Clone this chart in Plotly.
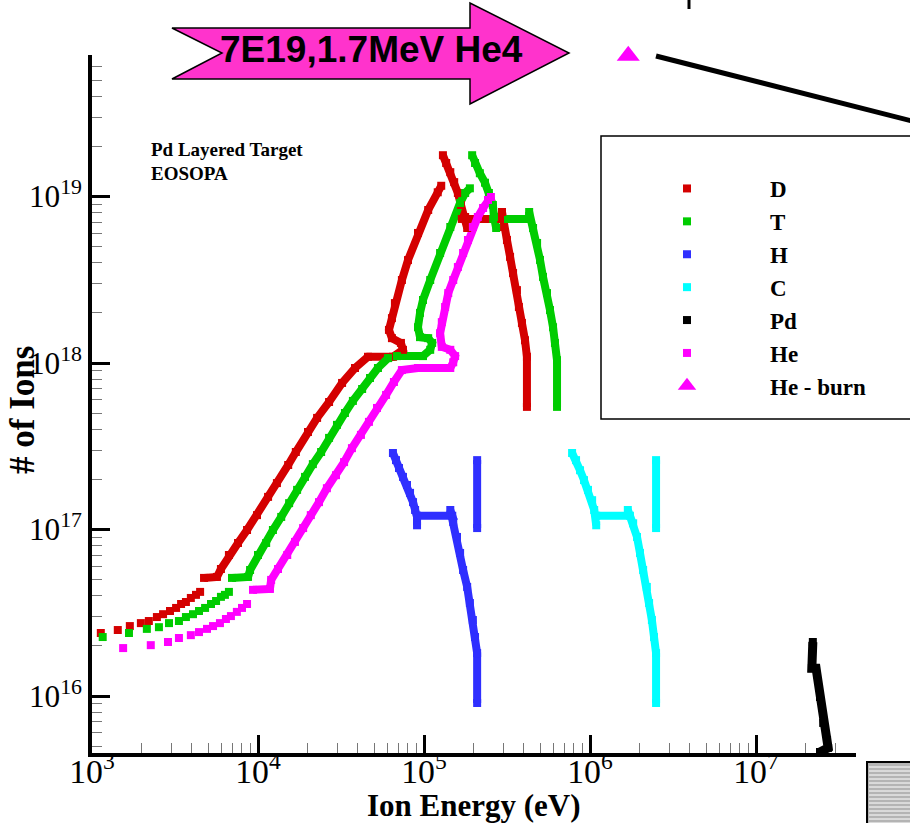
import plotly.graph_objects as go

# ---------------- data (Ion energy in eV, number of ions) ----------------
D_sparse_E = [1.13e3, 1.43e3, 1.69e3, 1.97e3, 2.20e3, 2.46e3, 2.68e3, 2.95e3, 3.21e3, 3.44e3, 3.68e3, 3.94e3, 4.23e3, 4.48e3]
D_sparse_N = [2.39e16, 2.49e16, 2.63e16, 2.74e16, 2.82e16, 2.98e16, 3.10e16, 3.24e16, 3.38e16, 3.57e16, 3.67e16, 3.88e16, 4.05e16, 4.22e16]
D_rise_E = [4.73e3, 5.66e3, 5.98e3, 6.68e3, 7.58e3, 8.59e3, 9.86e3, 1.15e4, 1.30e4, 1.52e4, 1.69e4, 2.00e4, 2.27e4, 2.68e4, 3.21e4,
            3.84e4, 4.60e4, 6.50e4, 7.47e4, 7.26e4, 6.41e4, 6.15e4, 6.41e4, 6.68e4, 7.36e4, 8.01e4, 9.20e4, 1.06e5, 1.21e5, 1.27e5]
D_rise_N = [5.12e16, 5.19e16, 5.79e16, 7.03e16, 8.30e16, 9.93e16, 1.22e17, 1.57e17, 1.90e17, 2.44e17, 2.92e17, 3.85e17, 4.68e17, 5.83e17, 7.59e17,
            9.33e17, 1.09e18, 1.09e18, 1.20e18, 1.32e18, 1.41e18, 1.58e18, 1.86e18, 2.29e18, 3.15e18, 4.15e18, 6.04e18, 8.30e18, 1.06e19, 1.16e19]
D_peak_E = [1.30e5, 1.36e5, 1.44e5, 1.52e5, 1.60e5, 1.67e5, 1.77e5, 1.82e5]
D_peak_N = [1.77e19, 1.59e19, 1.40e19, 1.22e19, 1.05e19, 8.89e18, 7.53e18, 6.47e18]
D_tail_E = [1.69e5, 2.87e5, 2.95e5, 3.03e5, 3.16e5, 3.30e5, 3.44e5, 3.63e5, 3.73e5, 3.89e5, 4.06e5, 4.17e5, 4.17e5]
D_tail_N = [7.33e18, 7.33e18, 8.07e18, 6.56e18, 5.48e18, 4.34e18, 3.47e18, 2.74e18, 2.17e18, 1.74e18, 1.37e18, 1.09e18, 5.45e17]

T_sparse_E = [1.16e3, 1.67e3, 2.14e3, 2.53e3, 2.91e3, 3.34e3, 3.68e3, 4.06e3, 4.41e3, 4.80e3, 5.21e3, 5.59e3, 5.98e3, 6.32e3, 6.68e3]
T_sparse_N = [2.26e16, 2.39e16, 2.53e16, 2.59e16, 2.74e16, 2.82e16, 2.98e16, 3.10e16, 3.24e16, 3.38e16, 3.57e16, 3.72e16, 3.94e16, 4.05e16, 4.22e16]
T_rise_E = [6.97e3, 8.71e3, 8.96e3, 1.00e4, 1.12e4, 1.23e4, 1.38e4, 1.54e4, 1.72e4, 1.92e4, 2.14e4, 2.40e4, 2.68e4, 2.99e4, 3.34e4,
            3.73e4, 4.24e4, 4.73e4, 5.28e4, 6.07e4, 6.87e4, 9.86e4, 1.09e5, 1.12e5, 1.06e5, 9.46e4, 9.20e4, 9.46e4, 9.86e4, 1.09e5,
            1.25e5, 1.44e5, 1.65e5, 1.77e5, 1.89e5]
T_rise_N = [5.12e16, 5.19e16, 5.71e16, 7.03e16, 8.30e16, 9.93e16, 1.19e17, 1.44e17, 1.73e17, 2.07e17, 2.47e17, 2.92e17, 3.55e17, 4.25e17, 5.01e17,
            5.92e17, 6.98e17, 8.13e17, 9.33e17, 1.07e18, 1.10e18, 1.10e18, 1.20e18, 1.32e18, 1.41e18, 1.43e18, 1.64e18, 2.00e18, 2.39e18, 3.15e18,
            4.58e18, 6.56e18, 9.14e18, 1.05e19, 1.12e19]
T_peak_E = [1.95e5, 2.03e5, 2.17e5, 2.33e5, 2.46e5, 2.60e5, 2.64e5, 2.72e5]
T_peak_N = [1.77e19, 1.59e19, 1.38e19, 1.21e19, 1.05e19, 8.89e18, 7.53e18, 6.47e18]
T_tail_E = [2.61e5, 4.30e5, 4.30e5, 4.54e5, 4.80e5, 5.00e5, 5.21e5, 5.51e5, 5.74e5, 5.99e5, 6.15e5, 6.33e5, 6.33e5]
T_tail_N = [7.33e18, 7.33e18, 8.07e18, 6.47e18, 5.26e18, 4.16e18, 3.29e18, 2.63e18, 2.08e18, 1.64e18, 1.32e18, 1.04e18, 5.45e17]

He_sparse_E = [1.54e3, 2.26e3, 2.87e3, 3.34e3, 3.94e3, 4.41e3, 4.93e3, 5.36e3, 5.90e3, 6.41e3, 6.87e3, 7.46e3, 8.01e3, 8.59e3]
He_sparse_N = [1.94e16, 2.02e16, 2.11e16, 2.23e16, 2.32e16, 2.42e16, 2.53e16, 2.63e16, 2.74e16, 2.90e16, 3.02e16, 3.20e16, 3.38e16, 3.57e16]
He_rise_E = [9.33e3, 1.18e4, 1.20e4, 1.32e4, 1.50e4, 1.67e4, 1.87e4, 2.08e4, 2.33e4, 2.60e4, 2.95e4, 3.30e4, 3.68e4, 4.17e4, 4.66e4,
             5.21e4, 5.91e4, 6.59e4, 7.36e4, 9.20e4, 1.44e5, 1.50e5, 1.54e5, 1.44e5, 1.28e5, 1.25e5, 1.28e5, 1.34e5, 1.40e5, 1.50e5,
             1.60e5, 1.72e5, 1.84e5, 1.97e5, 2.11e5, 2.27e5, 2.43e5, 2.53e5]
He_rise_N = [4.34e16, 4.40e16, 4.98e16, 5.79e16, 7.03e16, 8.42e16, 1.02e17, 1.22e17, 1.46e17, 1.77e17, 2.12e17, 2.54e17, 3.08e17, 3.70e17, 4.43e17,
             5.37e17, 6.43e17, 7.69e17, 9.07e17, 9.33e17, 9.33e17, 1.01e18, 1.10e18, 1.20e18, 1.25e18, 1.51e18, 1.76e18, 2.17e18, 2.63e18, 3.15e18,
             3.77e18, 4.58e18, 5.48e18, 6.56e18, 7.53e18, 8.53e18, 9.53e18, 9.93e18]

H_a_E = [6.50e4, 6.78e4, 7.07e4, 7.47e4, 7.90e4, 8.24e4, 8.59e4, 8.84e4, 9.08e4, 9.08e4]
H_a_N = [2.88e17, 2.61e17, 2.34e17, 2.07e17, 1.85e17, 1.66e17, 1.46e17, 1.31e17, 1.19e17, 1.06e17]
H_b_E = [9.08e4, 1.48e5, 1.44e5, 1.50e5, 1.58e5, 1.65e5, 1.72e5, 1.82e5, 1.89e5, 1.97e5, 2.03e5, 2.09e5, 2.09e5]
H_b_N = [1.21e17, 1.21e17, 1.31e17, 1.11e17, 9.02e16, 7.23e16, 5.71e16, 4.52e16, 3.62e16, 2.86e16, 2.26e16, 1.81e16, 9.08e15]
H_bar_E = [2.09e5, 2.09e5]
H_bar_N = [2.61e17, 1.02e17]

C_a_E = [7.80e5, 8.24e5, 8.71e5, 9.20e5, 9.73e5, 1.03e6, 1.06e6, 1.09e6]
C_a_N = [2.88e17, 2.61e17, 2.27e17, 1.98e17, 1.73e17, 1.50e17, 1.31e17, 1.06e17]
C_b_E = [1.09e6, 1.74e6, 1.69e6, 1.82e6, 1.92e6, 2.00e6, 2.09e6, 2.20e6, 2.27e6, 2.36e6, 2.43e6, 2.50e6, 2.50e6]
C_b_N = [1.21e17, 1.21e17, 1.31e17, 1.09e17, 9.02e16, 7.23e16, 5.71e16, 4.52e16, 3.62e16, 2.86e16, 2.26e16, 1.81e16, 9.08e15]
C_bar_E = [2.50e6, 2.50e6]
C_bar_N = [2.61e17, 1.02e17]

Pd_E = [2.20e7, 2.17e7, 2.30e7, 2.43e7, 2.54e7, 2.68e7, 2.72e7, 2.43e7]
Pd_N = [2.11e16, 1.47e16, 1.47e16, 9.86e15, 6.89e15, 5.45e15, 4.88e15, 4.61e15]

HeBurn_E = [1.7e6]
HeBurn_N = [7.0e19]

# ---------------- styling ----------------
COL = {"D": "#D40000", "T": "#00CC00", "H": "#2F2FFF", "C": "#00FFFF", "Pd": "#000000", "He": "#FF00FF"}
SERIF = "Liberation Serif"

W, H = 910, 823
ML, MR, MT, MB = 92, 54, 55, 70
PW, PH = W - ML - MR, H - MT - MB
XDEC, YDEC = 166.0, 166.5          # pixels per decade
Y16 = 696                          # pixel row of 1e16


def px(x, y):
    """pixel -> paper coordinates"""
    return (x - ML) / PW, (H - MB - y) / PH


def join(*segs):
    xs, ys = [], []
    for e, n in segs:
        if xs:
            xs.append(None)
            ys.append(None)
        xs += list(e)
        ys += list(n)
    return xs, ys


species = [
    ("D", [(D_sparse_E, D_sparse_N)], [(D_rise_E, D_rise_N), (D_peak_E, D_peak_N), (D_tail_E, D_tail_N)], 8),
    ("T", [(T_sparse_E, T_sparse_N)], [(T_rise_E, T_rise_N), (T_peak_E, T_peak_N), (T_tail_E, T_tail_N)], 8),
    ("H", [], [(H_a_E, H_a_N), (H_b_E, H_b_N), (H_bar_E, H_bar_N)], 8),
    ("C", [], [(C_a_E, C_a_N), (C_b_E, C_b_N), (C_bar_E, C_bar_N)], 8),
    ("Pd", [], [(Pd_E, Pd_N)], 9),
    ("He", [(He_sparse_E, He_sparse_N)], [(He_rise_E, He_rise_N)], 8),
]

fig = go.Figure()
for name, sparse, dense, lw in species:
    c = COL[name]
    lx, ly = join(*dense)
    fig.add_trace(go.Scatter(x=lx, y=ly, mode="lines", line=dict(color=c, width=lw),
                             showlegend=False, hoverinfo="skip", connectgaps=False))
for name, sparse, dense, lw in species:
    c = COL[name]
    mx, my = [], []
    for e, n in sparse + dense:
        mx += list(e)
        my += list(n)
    fig.add_trace(go.Scatter(x=mx, y=my, mode="markers", name=name,
                             marker=dict(symbol="square", size=8, color=c, line=dict(width=0))))
fig.add_trace(go.Scatter(x=HeBurn_E, y=HeBurn_N, mode="markers", name="He - burn", cliponaxis=False,
                         marker=dict(symbol="triangle-up", size=20, color="#FF00FF", line=dict(width=0))))

axis_common = dict(
    type="log", showline=True, linewidth=4, linecolor="black", mirror=False,
    ticks="inside", ticklen=18, tickwidth=3, tickcolor="black", dtick=1,
    exponentformat="power", showexponent="all", showgrid=False, zeroline=False,
    minor=dict(ticks="inside", ticklen=10, tickwidth=1, tickcolor="#777777", dtick="D1", showgrid=False),
)

fig.update_layout(
    width=W, height=H,
    margin=dict(l=ML, r=MR, t=MT, b=MB, autoexpand=False),
    paper_bgcolor="white", plot_bgcolor="white",
    xaxis=dict(axis_common, range=[3, 3 + PW / XDEC], ticklabelstandoff=-13,
               tickfont=dict(family=SERIF, size=27, color="black")),
    yaxis=dict(axis_common, range=[16 - (H - MB - Y16) / YDEC, 16 + (Y16 - MT) / YDEC], ticklabelstandoff=1,
               tickfont=dict(family=SERIF, size=25, color="black")),
    showlegend=True,
    legend=dict(x=px(604, 0)[0], y=px(0, 167)[1], xanchor="left", yanchor="top",
                bgcolor="rgba(0,0,0,0)", borderwidth=0, itemwidth=156, itemsizing="trace",
                font=dict(family=SERIF, size=23, color="black", weight="bold"), traceorder="normal"),
)

shapes = []
# legend frame
x0, y0 = px(601, 419)
x1, y1 = px(918, 136)
shapes.append(dict(type="rect", xref="paper", yref="paper", x0=x0, y0=y0, x1=x1, y1=y1,
                   line=dict(color="black", width=1.5), fillcolor="rgba(0,0,0,0)", layer="below"))
# big arrow
arrow_pts = [(172, 28), (470, 28), (470, 3), (569, 53), (470, 104), (470, 79), (172, 79), (222, 53)]
path = "M " + " L ".join("%.5f,%.5f" % px(a, b) for a, b in arrow_pts) + " Z"
shapes.append(dict(type="path", xref="paper", yref="paper", path=path,
                   fillcolor="#FF33CC", line=dict(color="black", width=1.5)))
# black diagonal line top right
a0, b0 = px(656, 56)
a1, b1 = px(912, 121)
shapes.append(dict(type="line", xref="paper", yref="paper", x0=a0, y0=b0, x1=a1, y1=b1,
                   line=dict(color="black", width=5)))
# small black tick at top
a0, b0 = px(689, -2)
a1, b1 = px(689, 9)
shapes.append(dict(type="line", xref="paper", yref="paper", x0=a0, y0=b0, x1=a1, y1=b1,
                   line=dict(color="black", width=3)))
# striped box bottom right
a0, b0 = px(867, 762)
a1, b1 = px(920, 830)
shapes.append(dict(type="rect", xref="paper", yref="paper", x0=a0, y0=b0, x1=a1, y1=b1,
                   fillcolor="#B4B4B4", line=dict(color="black", width=2)))
for yy in range(767, 826, 4):
    s0, t0 = px(869, yy)
    s1, t1 = px(915, yy)
    shapes.append(dict(type="line", xref="paper", yref="paper", x0=s0, y0=t0, x1=s1, y1=t1,
                       line=dict(color="white", width=1)))
fig.update_layout(shapes=shapes)

ann = []
ax, ay = px(371, 50)
ann.append(dict(xref="paper", yref="paper", x=ax, y=ay, text="<b>7E19,1.7MeV He4</b>", showarrow=False,
                xanchor="center", yanchor="middle", font=dict(family="Liberation Sans", size=37, color="black")))
for txt, yc in (("Pd Layered Target", 150), ("EOSOPA", 173)):
    tx, ty = px(149, yc)
    ann.append(dict(xref="paper", yref="paper", x=tx, y=ty, text="<b>%s</b>" % txt, showarrow=False,
                    xanchor="left", yanchor="middle", font=dict(family=SERIF, size=19, color="black")))
# axis titles
tx, ty = px(474, 805)
ann.append(dict(xref="paper", yref="paper", x=tx, y=ty, text="<b>Ion Energy (eV)</b>", showarrow=False,
                xanchor="center", yanchor="middle", font=dict(family=SERIF, size=31, color="black")))
tx, ty = px(22, 410)
ann.append(dict(xref="paper", yref="paper", x=tx, y=ty, text="<b># of Ions</b>", showarrow=False, textangle=-90,
                xanchor="center", yanchor="middle", font=dict(family=SERIF, size=35, color="black")))
fig.update_layout(annotations=ann)

fig.write_html("out.html")
